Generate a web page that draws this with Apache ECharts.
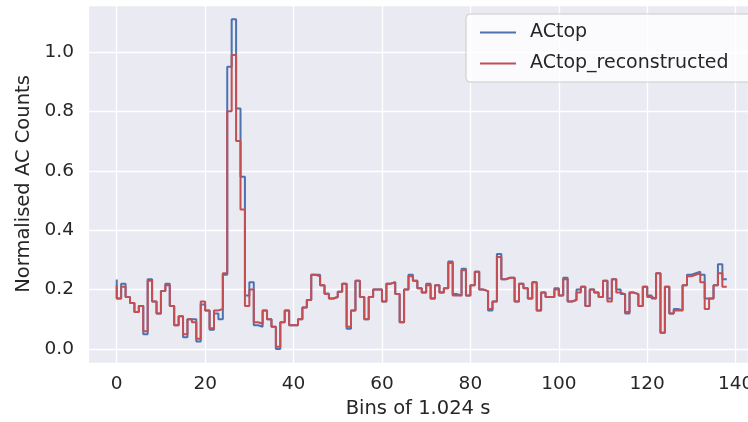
<!DOCTYPE html>
<html>
<head>
<meta charset="utf-8">
<script src="https://cdn.jsdelivr.net/npm/echarts@6/dist/echarts.min.js"></script>
<style>
html,body{margin:0;padding:0;background:#fff;}
#c{width:748px;height:422px;}
</style>
</head>
<body>
<div id="c"></div>
<script>
const seriesNames = ['ACtop', 'ACtop_reconstructed'];
const xTickLabels = [0, 20, 40, 60, 80, 100, 120, 140];
const yTickLabels = [0.0, 0.2, 0.4, 0.6, 0.8, 1.0];

const acTop = [
0.234,0.17,0.22,0.175,0.155,0.125,0.145,0.05,0.235,0.16,
0.12,0.195,0.22,0.145,0.08,0.11,0.04,0.10,0.10,0.025,
0.15,0.13,0.065,0.12,0.10,0.25,0.95,1.11,0.81,0.58,
0.18,0.225,0.08,0.075,0.13,0.10,0.075,0.0,0.09,0.13,
0.08,0.08,0.10,0.14,0.165,0.25,0.25,0.215,0.186,0.17,
0.175,0.193,0.22,0.068,0.13,0.23,0.175,0.10,0.175,0.20,
0.20,0.16,0.22,0.225,0.185,0.09,0.20,0.25,0.23,0.205,
0.19,0.22,0.17,0.215,0.19,0.205,0.295,0.185,0.18,0.27,
0.18,0.215,0.26,0.20,0.195,0.13,0.16,0.32,0.235,0.24,
0.24,0.16,0.22,0.205,0.17,0.225,0.13,0.19,0.175,0.175,
0.205,0.18,0.24,0.16,0.165,0.20,0.21,0.145,0.20,0.19,
0.175,0.23,0.17,0.235,0.20,0.185,0.12,0.19,0.185,0.145,
0.21,0.18,0.17,0.255,0.055,0.21,0.12,0.135,0.13,0.215,
0.25,0.255,0.26,0.25,0.17,0.17,0.215,0.285,0.235
];

const acTopReconstructed = [
0.215,0.17,0.21,0.175,0.155,0.125,0.145,0.06,0.23,0.16,
0.12,0.195,0.215,0.145,0.08,0.11,0.05,0.10,0.09,0.035,
0.16,0.13,0.07,0.13,0.135,0.255,0.80,0.99,0.70,0.47,
0.145,0.20,0.09,0.085,0.13,0.10,0.075,0.008,0.09,0.13,
0.08,0.08,0.10,0.14,0.165,0.25,0.245,0.215,0.186,0.17,
0.175,0.193,0.22,0.075,0.13,0.23,0.175,0.10,0.175,0.20,
0.20,0.16,0.22,0.225,0.185,0.09,0.20,0.245,0.23,0.205,
0.19,0.215,0.17,0.215,0.19,0.205,0.29,0.18,0.18,0.265,
0.18,0.215,0.26,0.20,0.195,0.135,0.16,0.31,0.235,0.24,
0.24,0.16,0.22,0.205,0.17,0.225,0.13,0.19,0.175,0.175,
0.20,0.18,0.235,0.16,0.165,0.19,0.21,0.145,0.20,0.19,
0.175,0.23,0.16,0.235,0.19,0.185,0.125,0.19,0.185,0.145,
0.21,0.175,0.17,0.255,0.055,0.21,0.12,0.13,0.13,0.215,
0.245,0.25,0.255,0.225,0.135,0.17,0.215,0.255,0.21
];

const bins = acTop.map((_, i) => i);

const chart = echarts.init(document.getElementById('c'), null, {renderer: 'canvas'});
const txt = '#262626';
const font = 'DejaVu Sans';

chart.setOption({
  animation: false,
  backgroundColor: '#ffffff',
  grid: {left: 88, top: 5, right: 0, bottom: 59, show: true, backgroundColor: '#EAEAF2', borderWidth: 0,
         containLabel: false, outerBoundsMode: 'none'},
  legend: {
    data: seriesNames,
    orient: 'vertical',
    left: 466, top: 14,
    padding: [9, 30, 9, 14],
    itemGap: 12,
    itemWidth: 36, itemHeight: 2,
    icon: 'rect',
    backgroundColor: 'rgba(255,255,255,0.8)',
    borderColor: '#cccccc', borderWidth: 1, borderRadius: 4,
    textStyle: {fontFamily: font, fontSize: 19, color: txt, padding: [0, 0, 0, 9]}
  },
  xAxis: {
    type: 'value', min: -6.5, max: 142.8, splitNumber: 7,
    name: 'Bins of 1.024 s', nameLocation: 'middle', nameGap: 36,
    nameTextStyle: {fontFamily: font, fontSize: 19.5, color: txt},
    axisLine: {show: false}, axisTick: {show: false},
    axisLabel: {
      fontFamily: font, fontSize: 18.5, color: txt, margin: 12,
      showMinLabel: false, showMaxLabel: false,
      formatter: v => (xTickLabels.indexOf(v) >= 0 ? String(v) : '')
    },
    splitLine: {show: true, lineStyle: {color: '#ffffff', width: 1.3}}
  },
  yAxis: {
    type: 'value', min: -0.047, max: 1.158, splitNumber: 6,
    name: 'Normalised AC Counts', nameLocation: 'middle', nameGap: 50,
    nameTextStyle: {fontFamily: font, fontSize: 19.5, color: txt},
    axisLine: {show: false}, axisTick: {show: false},
    axisLabel: {
      fontFamily: font, fontSize: 18.5, color: txt, margin: 14,
      showMinLabel: false, showMaxLabel: false,
      formatter: v => {
        const m = yTickLabels.find(t => Math.abs(t - v) < 1e-6);
        return m === undefined ? '' : m.toFixed(1);
      }
    },
    splitLine: {show: true, lineStyle: {color: '#ffffff', width: 1.3}}
  },
  series: [
    {
      name: seriesNames[0], type: 'line', step: 'start', showSymbol: false,
      data: bins.map((b, i) => [b, acTop[i]]),
      itemStyle: {color: '#4C72B0'},
      lineStyle: {color: '#4C72B0', width: 2}
    },
    {
      name: seriesNames[1], type: 'line', step: 'start', showSymbol: false,
      data: bins.map((b, i) => [b, acTopReconstructed[i]]),
      itemStyle: {color: '#C44E52'},
      lineStyle: {color: '#C44E52', width: 2}
    }
  ]
});
</script>
</body>
</html>
